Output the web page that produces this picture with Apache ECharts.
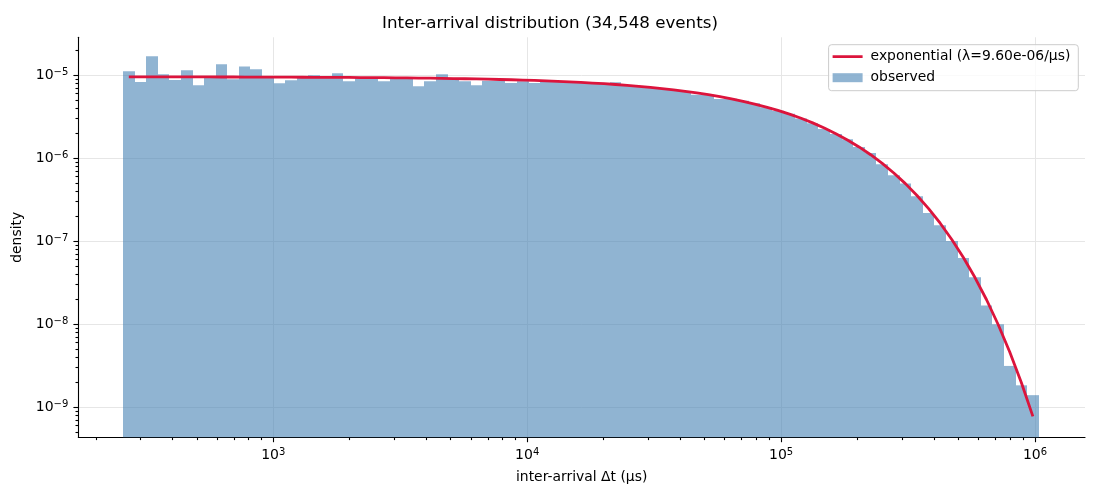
<!DOCTYPE html>
<html>
<head>
<meta charset="utf-8">
<title>Inter-arrival distribution</title>
<script src="https://cdn.jsdelivr.net/npm/echarts@6/dist/echarts.min.js"></script>
<style>
  html, body { margin: 0; padding: 0; background: #fff; }
  #chart { width: 1100px; height: 500px; }
</style>
</head>
<body>
<div id="chart"></div>
<script>
// histogram bin edges (µs), 79 log-spaced bins
const binEdges = [
    256.1, 284.4, 315.9, 350.9, 389.9, 433.1, 481.1, 534.4, 593.6, 659.4,
    732.5, 813.6, 903.8, 1004, 1115, 1239, 1376, 1529, 1698, 1886,
    2095, 2328, 2585, 2872, 3190, 3544, 3937, 4373, 4858, 5396,
    5994, 6658, 7396, 8216, 9126, 10140, 11260, 12510, 13900, 15440,
    17150, 19050, 21160, 23500, 26110, 29000, 32220, 35790, 39760, 44160,
    49060, 54500, 60540, 67250, 74700, 82980, 92180, 102400, 113800, 126400,
    140400, 156000, 173200, 192400, 213800, 237500, 263800, 293000, 325500, 361600,
    401700, 446200, 495600, 550600, 611600, 679400, 754700, 838400, 931100, 1034000
];

// observed density per bin
const observed = [
    1.12e-5, 8.3e-6, 1.70e-5, 1.03e-5, 8.8e-6, 1.15e-5, 7.6e-6, 9.7e-6, 1.36e-5, 8.95e-6,
    1.28e-5, 1.18e-5, 9.7e-6, 8.0e-6, 8.7e-6, 9.5e-6, 1.0e-5, 9.7e-6, 1.06e-5, 8.5e-6,
    9.3e-6, 9.1e-6, 8.5e-6, 9.3e-6, 9.2e-6, 7.4e-6, 8.5e-6, 1.03e-5, 9.0e-6, 8.5e-6,
    7.6e-6, 8.6e-6, 8.6e-6, 8.1e-6, 8.5e-6, 8.1e-6, 8.5e-6, 8.5e-6, 8.4e-6, 8.2e-6,
    8.0e-6, 7.9e-6, 8.25e-6, 7.55e-6, 7.35e-6, 7.15e-6, 6.95e-6, 6.65e-6, 6.4e-6, 5.85e-6,
    5.85e-6, 5.18e-6, 5.2e-6, 4.92e-6, 4.62e-6, 4.12e-6, 3.75e-6, 3.45e-6, 3.02e-6, 2.65e-6,
    2.25e-6, 1.96e-6, 1.70e-6, 1.37e-6, 1.16e-6, 8.5e-7, 6.24e-7, 4.98e-7, 3.5e-7, 2.19e-7,
    1.56e-7, 1.01e-7, 6.3e-8, 3.7e-8, 1.68e-8, 1.0e-8, 3.15e-9, 1.84e-9, 1.40e-9
];

// fitted exponential density at bin centres
const expFit = [
    9.575e-6, 9.572e-6, 9.569e-6, 9.566e-6, 9.562e-6, 9.558e-6, 9.553e-6, 9.548e-6, 9.542e-6, 9.536e-6,
    9.529e-6, 9.521e-6, 9.513e-6, 9.503e-6, 9.492e-6, 9.480e-6, 9.467e-6, 9.453e-6, 9.436e-6, 9.419e-6,
    9.399e-6, 9.376e-6, 9.352e-6, 9.325e-6, 9.295e-6, 9.262e-6, 9.225e-6, 9.184e-6, 9.139e-6, 9.090e-6,
    9.035e-6, 8.974e-6, 8.907e-6, 8.834e-6, 8.753e-6, 8.664e-6, 8.566e-6, 8.459e-6, 8.340e-6, 8.211e-6,
    8.071e-6, 7.917e-6, 7.750e-6, 7.568e-6, 7.372e-6, 7.159e-6, 6.930e-6, 6.682e-6, 6.420e-6, 6.139e-6,
    5.843e-6, 5.530e-6, 5.202e-6, 4.860e-6, 4.508e-6, 4.145e-6, 3.776e-6, 3.406e-6, 3.037e-6, 2.673e-6,
    2.319e-6, 1.981e-6, 1.664e-6, 1.370e-6, 1.104e-6, 8.685e-7, 6.658e-7, 4.951e-7, 3.566e-7, 2.475e-7,
    1.651e-7, 1.051e-7, 6.380e-8, 3.657e-8, 1.975e-8, 9.939e-9, 4.644e-9, 1.991e-9, 7.78e-10
];

const xMajorTicks = [1e3, 1e4, 1e5, 1e6];
const yMajorTicks = [1e-9, 1e-8, 1e-7, 1e-6, 1e-5];
const xDecades = [1e2, 1e3, 1e4, 1e5, 1e6];
const yDecades = [1e-10, 1e-9, 1e-8, 1e-7, 1e-6, 1e-5];
const minorSteps = [2, 3, 4, 5, 6, 7, 8, 9];

const FONT = 'DejaVu Sans';
const BAR_COLOR = 'rgba(70,130,180,0.6)';
const LINE_COLOR = '#dc143c';
const X_RANGE = [170.7, 1.574e6];
const Y_RANGE = [4.35e-10, 2.87e-5];
const FIT_NAME = 'exponential (\u03bb=9.60e-06/\u03bcs)';
// plain line handle for the legend (corner dots fix the 30x9 box)
const LINE_ICON = 'path://M0,0h0.01v0.01h-0.01z M0,3.1h30v2.8h-30z M29.99,8.99h0.01v0.01h-0.01z';

function minorTicks(decades, range) {
    const out = [];
    decades.forEach(d => {
        minorSteps.forEach(m => {
            const v = d * m;
            if (v > range[0] && v < range[1]) out.push(v);
        });
    });
    return out;
}

// 10 with a superscript exponent, matplotlib style
function powerLabel(value) {
    const exp = Math.round(Math.log10(value));
    const txt = exp < 0 ? '\u2212' + (-exp) : String(exp);
    return '{b|10}{s|' + txt + '}';
}

const labelRich = {
    b: { fontFamily: FONT, fontSize: 14, color: '#000', lineHeight: 16 },
    s: { fontFamily: FONT, fontSize: 10, color: '#000', lineHeight: 16, verticalAlign: 'top' }
};

function renderBin(params, api) {
    const lo = api.value(0);
    const hi = api.value(1);
    const dens = api.value(2);
    const p0 = api.coord([lo, dens]);
    const p1 = api.coord([hi, dens]);
    const cs = params.coordSys;
    const x0 = Math.round(p0[0]);
    const x1 = Math.round(p1[0]);
    const bottom = cs.y + cs.height;
    return {
        type: 'rect',
        shape: { x: x0, y: p0[1], width: x1 - x0, height: bottom - p0[1] },
        style: { fill: BAR_COLOR }
    };
}

const binData = observed.map((v, i) => [binEdges[i], binEdges[i + 1], v]);
const fitData = expFit.map((v, i) => [Math.sqrt(binEdges[i] * binEdges[i + 1]), v]);

function logAxis(range, majors, minors, isMinor, extra) {
    const ax = {
        type: 'log',
        logBase: 10,
        min: range[0],
        max: range[1],
        axisLine: { show: !isMinor, onZero: false, lineStyle: { color: '#000', width: 1.1 } },
        axisTick: {
            show: true,
            inside: false,
            length: isMinor ? 2.8 : 4.9,
            customValues: isMinor ? minors : majors,
            lineStyle: { color: '#000', width: 1.1 }
        },
        axisLabel: isMinor ? { show: false } : {
            show: true,
            margin: 10,
            customValues: majors,
            formatter: powerLabel,
            rich: labelRich
        },
        splitLine: { show: !isMinor, lineStyle: { color: '#e6e6e6', width: 1 } },
        minorTick: { show: false },
        minorSplitLine: { show: false }
    };
    return Object.assign(ax, extra);
}

const chart = echarts.init(document.getElementById('chart'), null, { renderer: 'canvas' });

const xMinor = minorTicks(xDecades, X_RANGE);
const yMinor = minorTicks(yDecades, Y_RANGE);

chart.setOption({
    animation: false,
    backgroundColor: '#fff',
    title: {
        text: 'Inter-arrival distribution (34,548 events)',
        left: 'center',
        top: 15,
        padding: [0, 0, 0, 63],
        textStyle: { fontFamily: FONT, fontSize: 16.7, fontWeight: 'normal', color: '#000' }
    },
    legend: {
        orient: 'vertical',
        right: 21.7,
        top: 44.7,
        padding: [4, 8, 5, 4],
        itemGap: 5,
        itemWidth: 30,
        itemHeight: 9,
        borderColor: '#cccccc',
        borderWidth: 1,
        borderRadius: 3,
        backgroundColor: 'rgba(255,255,255,0.8)',
        textStyle: { fontFamily: FONT, fontSize: 13.9, color: '#000', lineHeight: 16, padding: [0, 0, 0, 3] },
        data: [
            { name: FIT_NAME, icon: LINE_ICON, itemStyle: { color: LINE_COLOR } },
            { name: 'observed', icon: 'rect' }
        ]
    },
    grid: { left: 78.3, right: 15, top: 37.3, bottom: 62.7, containLabel: false },
    xAxis: [
        logAxis(X_RANGE, xMajorTicks, xMinor, false, {
            position: 'bottom',
            name: 'inter-arrival \u0394t (\u03bcs)',
            nameLocation: 'middle',
            nameGap: 33,
            nameTextStyle: { fontFamily: FONT, fontSize: 13.9, color: '#000' }
        }),
        logAxis(X_RANGE, xMajorTicks, xMinor, true, { position: 'bottom' })
    ],
    yAxis: [
        logAxis(Y_RANGE, yMajorTicks, yMinor, false, {
            position: 'left',
            name: 'density',
            nameLocation: 'middle',
            nameGap: 45,
            nameTextStyle: { fontFamily: FONT, fontSize: 13.9, color: '#000' }
        }),
        logAxis(Y_RANGE, yMajorTicks, yMinor, true, { position: 'left' })
    ],
    series: [
        {
            name: 'observed',
            type: 'custom',
            xAxisIndex: 0,
            yAxisIndex: 0,
            renderItem: renderBin,
            encode: { x: [0, 1], y: 2 },
            itemStyle: { color: BAR_COLOR },
            data: binData,
            z: 2
        },
        {
            name: FIT_NAME,
            type: 'line',
            xAxisIndex: 0,
            yAxisIndex: 0,
            data: fitData,
            symbol: 'none',
            showSymbol: false,
            lineStyle: { color: LINE_COLOR, width: 2.8 },
            itemStyle: { color: LINE_COLOR },
            z: 3
        }
    ]
});

window.addEventListener('resize', function() {
    chart.resize();
});
</script>
</body>
</html>
